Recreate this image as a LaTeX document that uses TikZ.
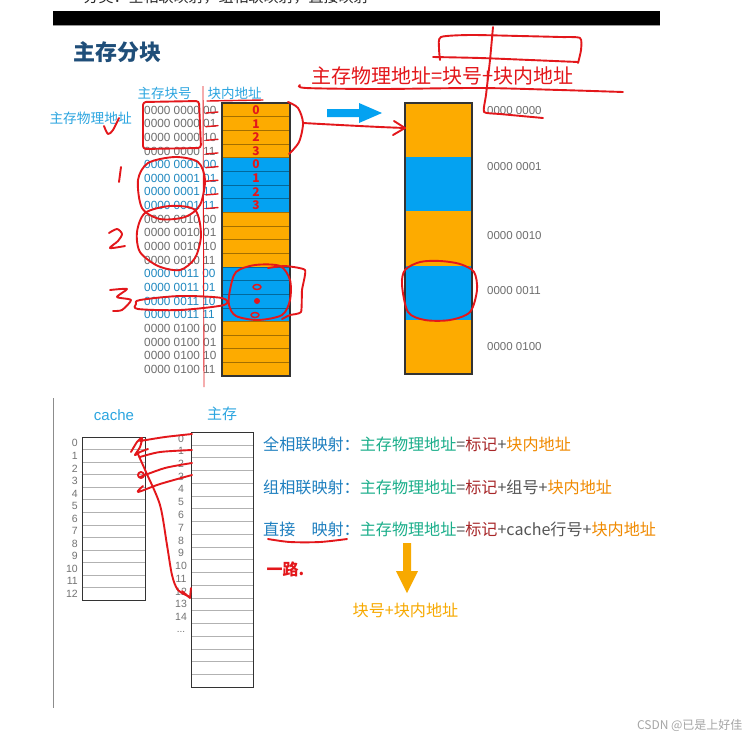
\documentclass[tikz,border=0pt]{standalone}
\usepackage{fontspec}
\setmainfont{Liberation Sans}
\newfontfamily\cjk{Noto Sans CJK SC}
\definecolor{handred}{HTML}{E3171B}
\definecolor{barorange}{HTML}{FDAB00}
\definecolor{barblue}{HTML}{04A2F1}
\definecolor{hdrblue}{HTML}{2BA5E0}
\definecolor{numblue}{HTML}{1E88C0}
\definecolor{numgrey}{HTML}{6E6E6E}
\definecolor{titleblue}{HTML}{1F4E79}
\definecolor{mapblue}{HTML}{1E7FBF}
\definecolor{mteal}{HTML}{1AAE8A}
\definecolor{mdarkred}{HTML}{A8282A}
\definecolor{morange}{HTML}{F08A00}
\definecolor{yorange}{HTML}{F7A900}
\definecolor{mgrey}{HTML}{555555}
\begin{document}
\begin{tikzpicture}[x=1pt,y=-1pt,
  hand/.style={draw=handred,line width=1.9pt,line cap=round,line join=round},
  thinred/.style={draw=handred,line width=0.9pt},
  rowline/.style={draw=black,opacity=0.35,line width=0.5pt},
  gridline/.style={draw=black!30,line width=0.5pt},
  frame/.style={draw=black!80,line width=1.2pt},
  reddigit/.style={text=handred,font={\cjk\bfseries\fontsize{12}{12}\selectfont}}]
\useasboundingbox (0,0) rectangle (752,740);
\fill[white] (0,0) rectangle (752,740);
% cut top line and black bar
\node[anchor=west,text=black!85,font={\cjk\fontsize{15}{15}\selectfont}] (toptext) at (80,-3) {分类：全相联映射，组相联映射，直接映射};
\fill[black] (53,11) rectangle (660,25);
\draw[black!40,line width=0.8pt] (53,25.5) -- (660,25.5);
% title
\node[anchor=west,text=titleblue,font={\cjk\bfseries\fontsize{22}{22}\selectfont}] (title) at (70,52) {主存分块};
% headers
\node[text=hdrblue,font={\cjk\fontsize{13.5}{14}\selectfont}] (hblk) at (164.5,93) {主存块号};
\node[text=hdrblue,font={\cjk\fontsize{13.5}{14}\selectfont}] (hoff) at (234.5,93) {块内地址};
\node[anchor=west,text=hdrblue,font={\cjk\fontsize{13.7}{14}\selectfont}] (hphys) at (46,118) {主存物理地址};
% left table text
\foreach \bi/\bs in {0/0000 0000,1/0000 0001,2/0000 0010,3/0000 0011,4/0000 0100}{
  \foreach \oi/\os in {0/00,1/01,2/10,3/11}{
    \pgfmathsetmacro{\yy}{110+13.65*(4*\bi+\oi)}
    \ifodd\bi\relax\def\tc{numblue}\else\def\tc{numgrey}\fi
    \node[anchor=west,text=\tc,font=\fontsize{11.8}{12}\selectfont,inner sep=0pt] (r\bi\oi) at (144,\yy) {\bs\ \os};
  }
}
% left bar
\foreach \b in {0,...,4}{
  \pgfmathsetmacro{\ya}{103+54.6*\b}
  \pgfmathsetmacro{\yb}{103+54.6*(\b+1)}
  \ifodd\b\relax\def\fc{barblue}\else\def\fc{barorange}\fi
  \fill[\fc] (222,\ya) rectangle (290,\yb);
}
\foreach \i in {1,...,19}{
  \pgfmathsetmacro{\yy}{103+13.65*\i}
  \draw[rowline] (222,\yy) -- (290,\yy);
}
\draw[frame] (222,103) rectangle (290,376);
% right bar
\foreach \b in {0,...,4}{
  \pgfmathsetmacro{\ya}{103+54.2*\b}
  \pgfmathsetmacro{\yb}{103+54.2*(\b+1)}
  \ifodd\b\relax\def\fc{barblue}\else\def\fc{barorange}\fi
  \fill[\fc] (405,\ya) rectangle (472,\yb);
}
\draw[frame] (405,103) rectangle (472,374);
\foreach \yy/\lab/\nm in {111/0000 0000/a,167/0000 0001/b,236/0000 0010/c,291/0000 0011/d,347/0000 0100/e}{
  \node[anchor=west,text=numgrey,font=\fontsize{11.5}{12}\selectfont,inner sep=0pt] (blk\nm) at (487,\yy) {\lab};
}
% blue arrow
\fill[barblue] (327,109) -- (359,109) -- (359,103) -- (382,113) -- (359,123) -- (359,117) -- (327,117) -- cycle;
% red main formula
\node[anchor=west,text=handred,font={\cjk\fontsize{20}{20}\selectfont},inner sep=0pt] (formula) at (311,76) {主存物理地址=块号+块内地址};
% ---------- red hand annotations (top) ----------
\draw[hand] plot[smooth,tension=0.4] coordinates {(440,60)(439,48)(441,37)(470,35)(520,36)(560,37)(580,38)(581,50)(578,63)};
\draw[hand] plot[smooth] coordinates {(433,57)(480,58)(530,60)(578,62)};
\draw[hand] plot[smooth,tension=0.3] coordinates {(493,27)(490,60)(486,95)(484,112)(500,114)(543,118)};
\draw[hand] plot[smooth] coordinates {(300,85)(306,88)(380,89)(480,88)(560,90)(623,92)};
\draw[thinred] (203,86) -- (204,387);
\draw[hand,line width=1.4pt] (207,101) -- (263,100);
\draw[hand] plot[smooth] coordinates {(104,126)(108,134)(113,130)(119,118)};
\draw[hand,rounded corners=3pt] (143,102) -- (199,101) -- (201,148) -- (143,149) -- cycle;
\foreach \i in {0,...,7}{
  \pgfmathsetmacro{\yy}{110+13.65*\i+3}
  \draw[hand,line width=1.4pt] (206,\yy) -- (218,\yy-1);
}
\draw[hand] plot[smooth cycle] coordinates {(138,180)(148,163)(175,157)(198,162)(205,180)(200,205)(185,217)(160,219)(142,208)};
\draw[hand] (121,167) -- (119,182);
\draw[hand] plot[smooth cycle] coordinates {(137,232)(145,213)(170,206)(195,210)(201,235)(195,258)(180,270)(158,266)(140,252)};
\draw[hand] plot[smooth] coordinates {(109,233)(117,229)(122,234)(118,241)(110,248)(125,246)};
\draw[hand] plot[smooth,tension=0.4] coordinates {(110,290)(127,289)(117,297)(131,300)(122,310)(113,311)};
\draw[hand] plot[smooth cycle] coordinates {(140,300)(180,296)(222,298)(224,305)(180,310)(138,309)(136,304)};
\draw[hand] plot[smooth cycle] coordinates {(230,290)(236,272)(255,265)(280,266)(290,280)(290,300)(282,315)(258,320)(236,316)(229,305)};
\draw[hand] plot[smooth,tension=0.3] coordinates {(268,268)(285,266)(305,270)(302,290)(301,312)(290,315)(282,319)};
\draw[hand] plot[smooth] coordinates {(288,102)(298,108)(303,123)(299,142)(289,154)};
\draw[hand] plot[smooth] coordinates {(303,123)(340,125)(380,127)(405,128)};
\draw[hand] (394,121) -- (405,128) -- (393,135);
\draw[hand] plot[smooth cycle] coordinates {(402,285)(405,270)(420,262)(440,261)(460,264)(474,272)(477,290)(470,312)(450,320)(425,320)(408,312)};
% red digits in bar
\foreach \bb in {0,1}{
  \foreach \d in {0,...,3}{
    \pgfmathsetmacro{\yy}{110+13.65*(4*\bb+\d)}
    \node[reddigit] (dig\bb\d) at (256,\yy) {\d};
  }
}
\draw[hand,line width=1.5pt] (257,287) ellipse (4 and 2.5);
\fill[handred] (257,301) circle (3);
\draw[hand,line width=1.5pt] (255,315) ellipse (4 and 2.5);
% ---------- lower section ----------
\draw[black!45,line width=1pt] (53,398) -- (53,708);
\node[text=hdrblue,font=\fontsize{15}{15}\selectfont] (cachelab) at (114,415) {cache};
\node[text=hdrblue,font={\cjk\fontsize{15}{15}\selectfont}] (mainlab) at (222,414) {主存};
% cache box
\foreach \i in {1,...,12}{
  \pgfmathsetmacro{\yy}{437+12.54*\i}
  \draw[gridline] (82,\yy) -- (145,\yy);
}
\draw[draw=black!80,line width=1pt] (82,437) rectangle (145,600);
\foreach \i in {0,...,12}{
  \pgfmathsetmacro{\yy}{437+12.54*(\i+0.5)}
  \node[anchor=east,text=black!55,font=\fontsize{10.5}{10.5}\selectfont,inner sep=0pt] (cl\i) at (78,\yy) {\i};
}
% main memory box
\foreach \i in {1,...,19}{
  \pgfmathsetmacro{\yy}{432+12.75*\i}
  \draw[gridline] (191,\yy) -- (253,\yy);
}
\draw[draw=black!80,line width=1pt] (191,432) rectangle (253,687);
\foreach \i in {0,...,14}{
  \pgfmathsetmacro{\yy}{432+12.75*(\i+0.5)}
  \node[text=black!55,font=\fontsize{10.5}{10.5}\selectfont,inner sep=0pt] (ml\i) at (181,\yy) {\i};
}
\node[anchor=base,text=black!55,font=\fontsize{10}{10}\selectfont,inner sep=0pt] (mldots) at (181,632) {...};
% mapping text
\node[anchor=west,font={\cjk\fontsize{16.1}{16}\selectfont},inner sep=0pt] (full) at (263,444)
  {\textcolor{mapblue}{全相联映射：}\textcolor{mteal}{主存物理地址}\textcolor{mgrey}{=}\textcolor{mdarkred}{标记}\textcolor{mgrey}{+}\textcolor{morange}{块内地址}};
\node[anchor=west,font={\cjk\fontsize{16.1}{16}\selectfont},inner sep=0pt] (set) at (263,487)
  {\textcolor{mapblue}{组相联映射：}\textcolor{mteal}{主存物理地址}\textcolor{mgrey}{=}\textcolor{mdarkred}{标记}\textcolor{mgrey}{+组号+}\textcolor{morange}{块内地址}};
\node[anchor=west,font={\cjk\fontsize{16.1}{16}\selectfont},inner sep=0pt] (direct) at (263,529)
  {\textcolor{mapblue}{直接　映射：}\textcolor{mteal}{主存物理地址}\textcolor{mgrey}{=}\textcolor{mdarkred}{标记}\textcolor{mgrey}{+cache行号+}\textcolor{morange}{块内地址}};
\fill[yorange] (403,543) -- (411,543) -- (411,571) -- (418,571) -- (407,593) -- (396,571) -- (403,571) -- cycle;
\node[text=yorange,font={\cjk\fontsize{16.1}{16}\selectfont}] (blkoff) at (405.5,610) {块号+块内地址};
% red hand annotations (lower)
\draw[hand] plot[smooth] coordinates {(268,539)(290,542)(320,542)(347,539)};
\node[anchor=west,text=handred,font={\cjk\bfseries\fontsize{16}{16}\selectfont}] (oneway) at (263,569) {一路.};
\draw[hand] plot[smooth] coordinates {(192,434)(165,437)(140,441)};
\draw[hand] plot[smooth] coordinates {(192,450)(160,452)(140,457)};
\draw[hand] plot[smooth] coordinates {(192,463)(165,468)(140,477)};
\draw[hand] plot[smooth] coordinates {(192,475)(160,484)(138,492)(143,486)};
\draw[hand] plot[smooth] coordinates {(131,452)(137,442)(142,438)(140,447)(135,455)(140,452)(148,449)};
\draw[hand] (141,475) circle (3);
\draw[hand] plot[smooth] coordinates {(137,452)(146,472)(160,505)(167,545)(172,575)(178,590)(190,597)};
\draw[hand] (182,591) -- (190,598) -- (191,588);
% watermark
\node[anchor=east,text=black!35,font={\cjk\fontsize{12}{12}\selectfont}] (wm) at (746,725) {CSDN @已是上好佳};
\end{tikzpicture}
\end{document}
